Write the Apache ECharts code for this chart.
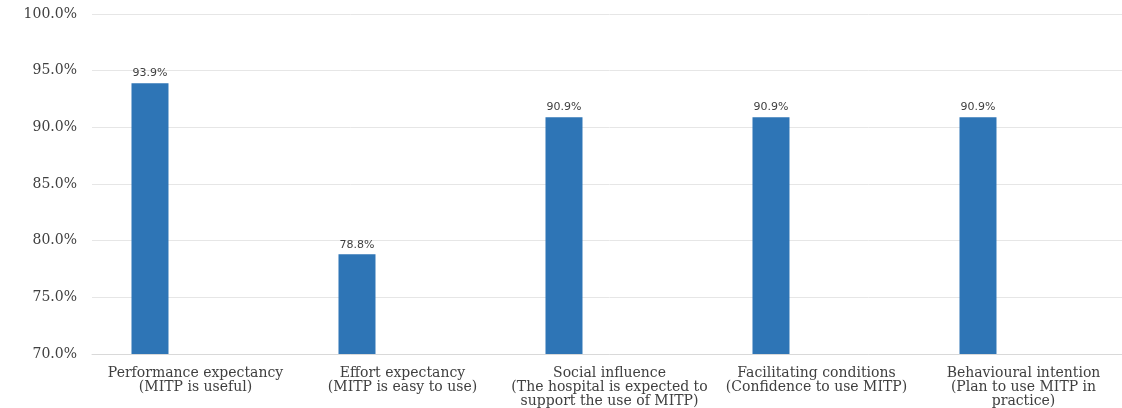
<!DOCTYPE html>
<html>
<head>
<meta charset="utf-8">
<script src="https://cdn.jsdelivr.net/npm/echarts@6/dist/echarts.min.js"></script>
<style>
  html, body { margin: 0; padding: 0; background: #fff; overflow: hidden; }
  #frame { width: 1122px; height: 408px; overflow: hidden; position: relative; }
  #chart { width: 1127px; height: 408px; position: absolute; left: 0; top: 0; }
</style>
</head>
<body>
<div id="frame"><div id="chart"></div></div>
<script>
// UTAUT constructs and share of respondents agreeing (%)
const categories = [
  'Performance expectancy\n(MITP is useful)',
  'Effort expectancy\n(MITP is easy to use)',
  'Social influence\n(The hospital is expected to\nsupport the use of MITP)',
  'Facilitating conditions\n(Confidence to use MITP)',
  'Behavioural intention\n(Plan to use MITP in\npractice)'
];
const agreeValues = [93.9, 78.8, 90.9, 90.9, 90.9];
// second cluster slot left empty
const emptyValues = [null, null, null, null, null];
const yTicks = { min: 70, max: 100, interval: 5 };

const serif = '"DejaVu Serif", "Liberation Serif", serif';
const sans = '"DejaVu Sans", "Liberation Sans", sans-serif';
const chart = echarts.init(document.getElementById('chart'));
chart.setOption({
  animation: false,
  grid: { left: 92, right: 0, top: 14, bottom: 52, containLabel: false },
  xAxis: {
    type: 'category',
    data: categories,
    axisLine: { show: true, lineStyle: { color: '#d9d9d9', width: 1 } },
    axisTick: { show: false },
    axisLabel: {
      interval: 0,
      margin: 12,
      color: '#404040',
      fontFamily: serif,
      fontSize: 14,
      lineHeight: 14
    }
  },
  yAxis: {
    type: 'value',
    min: yTicks.min,
    max: yTicks.max,
    interval: yTicks.interval,
    axisLine: { show: false },
    axisTick: { show: false },
    splitLine: { lineStyle: { color: '#e6e6e6', width: 1 } },
    axisLabel: {
      margin: 15,
      color: '#404040',
      fontFamily: serif,
      fontSize: 14,
      formatter: v => v.toFixed(1) + '%'
    }
  },
  series: [
    {
      type: 'bar',
      data: agreeValues,
      barWidth: 37,
      barGap: '146%',
      itemStyle: { color: '#2E75B6' },
      label: {
        show: true,
        position: 'top',
        distance: 4,
        color: '#404040',
        fontFamily: sans,
        fontSize: 11,
        formatter: p => p.value.toFixed(1) + '%'
      }
    },
    {
      type: 'bar',
      data: emptyValues,
      barWidth: 37,
      itemStyle: { color: '#ED7D31' }
    }
  ]
});
</script>
</body>
</html>
